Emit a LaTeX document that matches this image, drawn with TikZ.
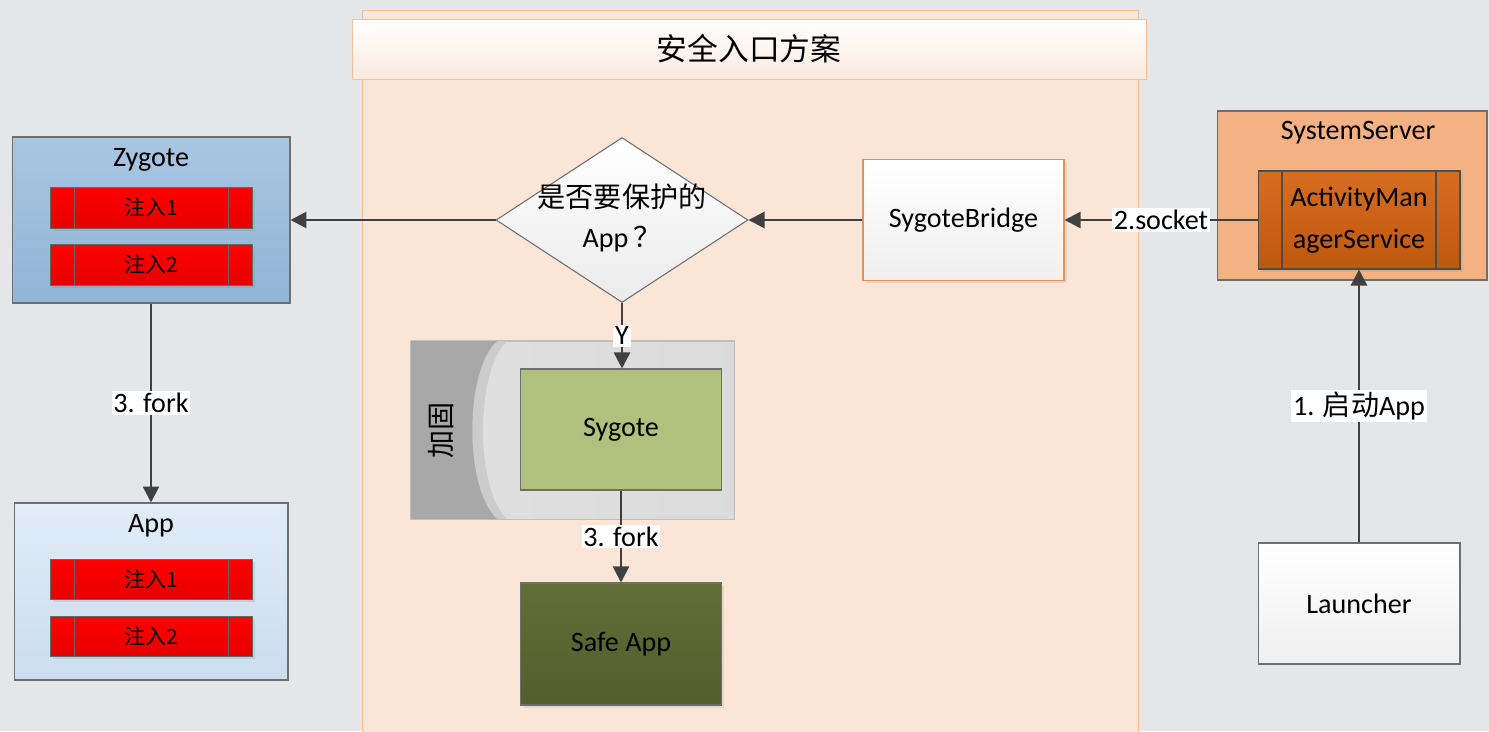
\documentclass[tikz,border=0pt]{standalone}
\usepackage{fontspec}
\setmainfont{Carlito}
\newfontfamily\cjk{Noto Sans CJK SC}
\usepackage{tikz}
\usetikzlibrary{shapes.geometric,arrows.meta,shadows}

\definecolor{paper}{RGB}{228,230,232}
\definecolor{lanefill}{RGB}{251,229,214}
\definecolor{laneline}{RGB}{244,190,150}
\definecolor{zygtop}{RGB}{168,198,226}
\definecolor{zygbot}{RGB}{145,181,214}
\definecolor{apptop}{RGB}{224,236,248}
\definecolor{appbot}{RGB}{204,221,238}
\definecolor{sysfill}{RGB}{244,177,131}
\definecolor{amstop}{RGB}{214,110,32}
\definecolor{amsbot}{RGB}{190,88,16}
\definecolor{sygfill}{RGB}{176,193,126}
\definecolor{safetop}{RGB}{96,110,54}
\definecolor{safebot}{RGB}{84,94,46}
\definecolor{arrowc}{RGB}{64,64,64}
\definecolor{edgec}{RGB}{110,110,110}
\definecolor{bridgeline}{RGB}{232,145,85}

\begin{document}
\begin{tikzpicture}[x=0.02cm, y=-0.02cm,
  box/.style={draw=edgec, line width=0.6pt, inner sep=0pt, align=center,
    font=\fontsize{16}{19}\selectfont},
  whitebox/.style={box, top color=white, bottom color=black!6},
  injbar/.style={draw=black!60, line width=0.5pt, top color=red, bottom color=red!90!black,
    minimum width=4.04cm, minimum height=0.82cm, inner sep=0pt,
    font=\cjk\fontsize{12}{14}\selectfont,
    drop shadow={shadow xshift=0.06cm, shadow yshift=-0.06cm, opacity=0.2},
    path picture={
      \draw[black!60] ([xshift=0.48cm]path picture bounding box.north west) -- ([xshift=0.48cm]path picture bounding box.south west);
      \draw[black!60] ([xshift=-0.48cm]path picture bounding box.north east) -- ([xshift=-0.48cm]path picture bounding box.south east);}},
  flow/.style={draw=arrowc, line width=1.4pt, -{Triangle[length=0.32cm, width=0.32cm]}},
  tag/.style={fill=white, inner sep=1pt, font=\fontsize{16}{19}\selectfont}]

\useasboundingbox (0,0) rectangle (1489,731);
\fill[paper] (0,0) rectangle (1489,731);

% Swimlane with its header
\node[draw=laneline, fill=lanefill, minimum width=15.52cm, minimum height=14.7cm] (lane) at (750,377.5) {};
\node[draw=laneline, top color=white, bottom color=lanefill!80, minimum width=15.88cm, minimum height=1.2cm,
  font=\cjk\fontsize{17.5}{20}\selectfont] (head) at (749,49) {安全入口方案};

% Zygote with injected parts
\node[box, top color=zygtop, bottom color=zygbot, minimum width=5.56cm, minimum height=3.32cm] (zyg) at (151,220) {};
\node[font=\fontsize{16}{19}\selectfont] (zygt) at (151,160) {Zygote};
\node[injbar] (zin1) at (151,207.5) {注入1};
\node[injbar] (zin2) at (151,264.5) {注入2};

% App forked from Zygote
\node[box, top color=apptop, bottom color=appbot, minimum width=5.48cm, minimum height=3.54cm] (app) at (151,591.5) {};
\node[font=\fontsize{16}{19}\selectfont] (appt) at (151,526) {App};
\node[injbar, minimum height=0.8cm] (ain1) at (151,579) {注入1};
\node[injbar, minimum height=0.8cm] (ain2) at (151,636) {注入2};

% Decision
\node[draw=edgec, line width=0.6pt, shape=diamond, top color=white, bottom color=black!8,
  minimum width=5.04cm, minimum height=3.3cm, inner sep=0pt] (ask) at (622,220) {};
\node[align=center, font=\fontsize{16}{23}\selectfont] (askt) at (622,218) {{\cjk 是否要保护的}\\App\,{\cjk ？}};

% Bridge
\node[whitebox, draw=bridgeline, minimum width=4.02cm, minimum height=2.42cm,
  drop shadow={shadow xshift=0.06cm, shadow yshift=-0.06cm, opacity=0.15}] (sb) at (963.5,220) {SygoteBridge};

% SystemServer
\node[box, fill=sysfill, minimum width=5.4cm, minimum height=3.38cm] (sys) at (1352,195.5) {};
\node[font=\fontsize{16}{19}\selectfont] (syst) at (1358,133) {SystemServer};
\node[box, draw=black!70, top color=amstop, bottom color=amsbot, minimum width=4.04cm, minimum height=1.96cm,
  font=\fontsize{16}{24}\selectfont,
  drop shadow={shadow xshift=0.06cm, shadow yshift=-0.06cm, opacity=0.15},
  path picture={
    \draw[black!70] ([xshift=0.48cm]path picture bounding box.north west) -- ([xshift=0.48cm]path picture bounding box.south west);
    \draw[black!70] ([xshift=-0.48cm]path picture bounding box.north east) -- ([xshift=-0.48cm]path picture bounding box.south east);}]
  (ams) at (1359,220) {ActivityMan\\agerService};

% Launcher
\node[whitebox, minimum width=4.04cm, minimum height=2.42cm] (lch) at (1359,603.5) {Launcher};

% Hardened container
\node[draw=black!25, left color=black!12, right color=black!14, minimum width=6.46cm, minimum height=3.56cm] (guard) at (572.5,430) {};
\begin{scope}
  \clip (guard.north west) rectangle (guard.south east);
  \fill[black!20] (411,341) -- (507,341) .. controls (475,371) and (475,489) .. (507,519) -- (411,519) -- cycle;
  \fill[black!34] (411,341) -- (497,341) .. controls (464,371) and (464,489) .. (497,519) -- (411,519) -- cycle;
\end{scope}
\draw[black!25] (guard.north west) rectangle (guard.south east);
\node[rotate=90, font=\cjk\fontsize{16}{19}\selectfont] (guardt) at (441,430) {加固};
\node[box, fill=sygfill, minimum width=4.02cm, minimum height=2.42cm] (syg) at (621,429.5) {Sygote};

% Safe App
\node[box, top color=safetop, bottom color=safebot, text=black, minimum width=4.02cm, minimum height=2.44cm,
  drop shadow={shadow xshift=0.06cm, shadow yshift=-0.06cm, opacity=0.15}] (safe) at (621,644) {Safe App};

% Connectors
\draw[flow] (ask.west) -- (zyg.east);
\draw[flow] (sb.west) -- (ask.east);
\draw[flow] (ams.west) -- node[tag] {2.socket} (sb.east);
\draw[flow] (zyg.south) -- node[tag] {3. fork} (app.north);
\draw[flow] (ask.south) -- node[tag] {Y} (ask.south |- syg.north);
\draw[flow] (syg.south) -- node[tag] {3. fork} (safe.north);
\draw[flow] (lch.north) -- node[tag] {1. {\cjk 启动}App} (ams.south);
\end{tikzpicture}
\end{document}
